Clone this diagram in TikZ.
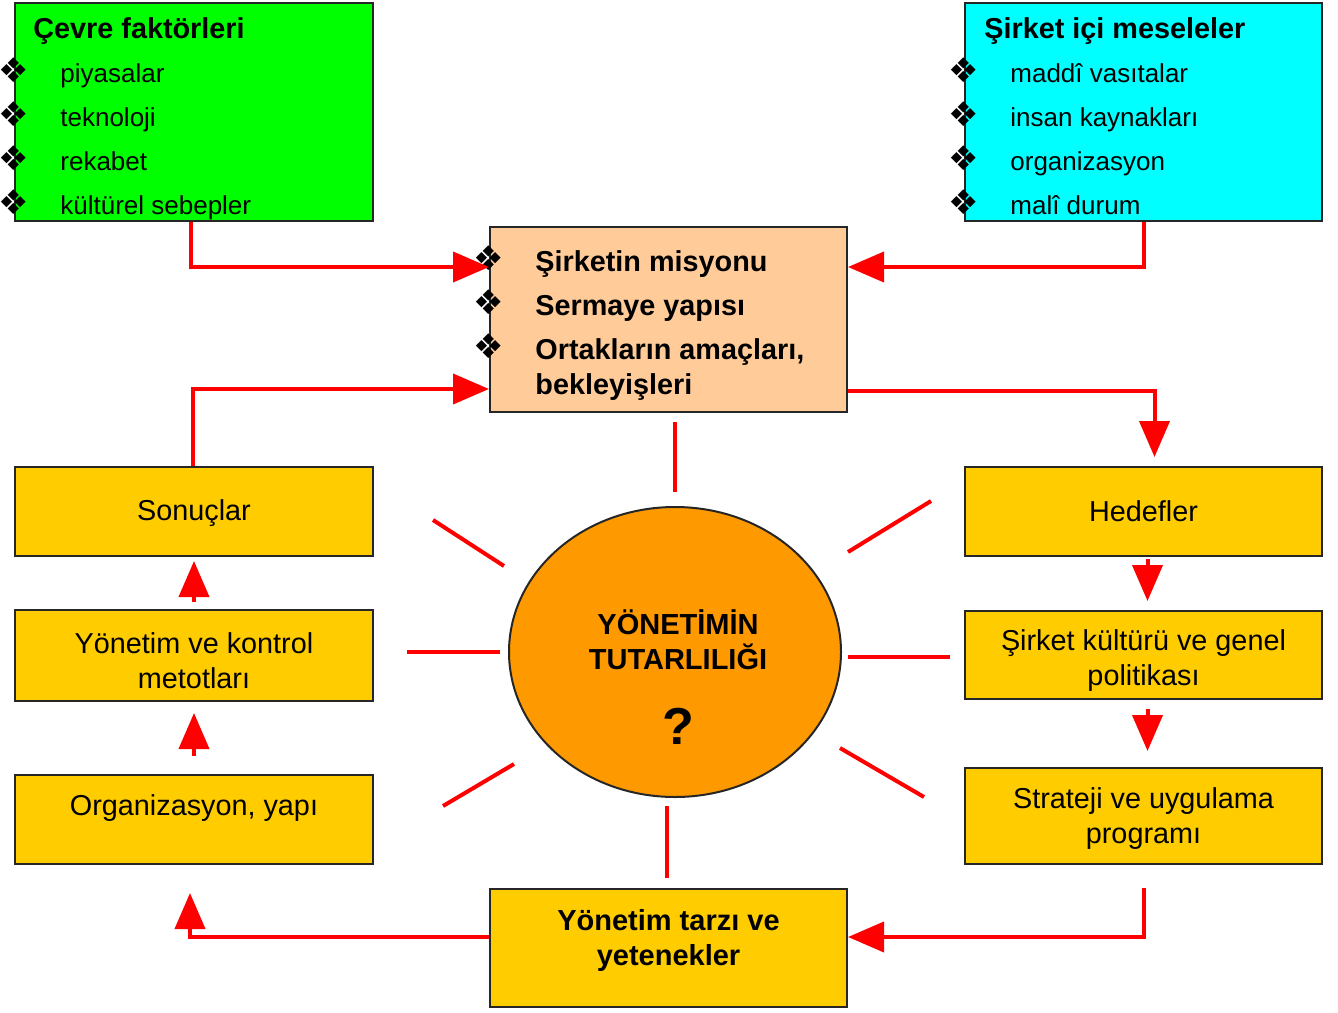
\documentclass[tikz,border=0pt]{standalone}
\usepackage{fontspec}
\setmainfont{Liberation Sans}
\newfontfamily\symfont{DejaVu Sans}
\usetikzlibrary{arrows.meta,calc,shapes.geometric}
\definecolor{cgreen}{HTML}{00FF00}
\definecolor{ccyan}{HTML}{00FFFF}
\definecolor{cpeach}{HTML}{FFCC99}
\definecolor{cyel}{HTML}{FFCC00}
\definecolor{corange}{HTML}{FF9900}
\definecolor{cred}{HTML}{FF0000}
\tikzset{
  box/.style={draw=black!85, line width=1pt, inner sep=0pt},
  txt/.style={font=\fontsize{14.4}{17.5}\selectfont, align=center, inner sep=0pt},
  btxt/.style={font=\bfseries\fontsize{14.5}{17.5}\selectfont, align=center, inner sep=0pt},
  item/.style={font=\fontsize{13}{16}\selectfont, anchor=mid west, inner sep=0pt},
  bitem/.style={font=\bfseries\fontsize{14.4}{16}\selectfont, anchor=mid west, inner sep=0pt},
  bul/.style={font=\symfont\fontsize{17}{17}\selectfont, inner sep=0pt},
  arr/.style={draw=cred, line width=2pt, -{Triangle[length=18pt,width=15pt]}},
  ray/.style={draw=cred, line width=2pt},
}
\begin{document}
\begin{tikzpicture}[x=0.5pt,y=-0.5pt]
\useasboundingbox (0,0) rectangle (1338,1012);
% top boxes
\node[box, fill=cgreen, minimum width=179pt, minimum height=109pt] (green) at (194,112) {};
\node[box, fill=ccyan, minimum width=178.5pt, minimum height=109pt] (cyan) at (1143.5,112) {};
\node[box, fill=cpeach, minimum width=178.5pt, minimum height=92.5pt] (peach) at (668.5,319.5) {};
% left column
\node[box, fill=cyel, minimum width=179pt, minimum height=44.5pt] (son) at (194,511.5) {};
\node[box, fill=cyel, minimum width=179pt, minimum height=45.5pt] (yvk) at (194,655.5) {};
\node[box, fill=cyel, minimum width=179pt, minimum height=44.5pt] (org) at (194,819.5) {};
% right column
\node[box, fill=cyel, minimum width=178.5pt, minimum height=44.5pt] (hedef) at (1143.5,511.5) {};
\node[box, fill=cyel, minimum width=178.5pt, minimum height=44pt] (kultur) at (1143.5,655) {};
\node[box, fill=cyel, minimum width=178.5pt, minimum height=48pt] (strat) at (1143.5,816) {};
% bottom
\node[box, fill=cyel, minimum width=178.5pt, minimum height=59pt] (tarz) at (668.5,948) {};
% ellipse
\node[box, ellipse, fill=corange, minimum width=166pt, minimum height=145pt] (ell) at (675,652) {};

% texts: green box
\node[bitem] (gh) at (33,33) {Çevre faktörleri};
\foreach \y/\t [count=\i] in {77/piyasalar,121/teknoloji,165/rekabet,209/kültürel sebepler}{
  \node[bul] (gb\i) at (14,\y-7) {❖};
  \node[item] (gi\i) at (60,\y) {\t};
}
% cyan box
\node[bitem] (ch) at (984,33) {Şirket içi meseleler};
\foreach \y/\t [count=\i] in {77/maddî vasıtalar,121/insan kaynakları,165/organizasyon,209/malî durum}{
  \node[bul] (cb\i) at (964,\y-7) {❖};
  \node[item] (ci\i) at (1010,\y) {\t};
}
% peach box
\foreach \y/\t [count=\i] in {266/Şirketin misyonu,310/Sermaye yapısı,354/{Ortakların amaçları,}}{
  \node[bul] (pb\i) at (489,\y-8) {❖};
  \node[bitem] (pi\i) at (535,\y) {\t};
}
\node[bitem] (pi4) at (535,389) {bekleyişleri};

% box texts
\node[txt] at ($(son)+(0,2)$) {Sonuçlar};
\node[txt] at ($(yvk)+(0,5)$) {Yönetim ve kontrol\\metotları};
\node[txt] at ($(org)+(0,-11)$) {Organizasyon, yapı};
\node[txt] at ($(hedef)+(0,0)$) {Hedefler};
\node[txt] at ($(kultur)+(0,6)$) {Şirket kültürü ve genel\\politikası};
\node[txt] at ($(strat)+(0,3)$) {Strateji ve uygulama\\programı};
\node[btxt] at ($(tarz)+(0,-8)$) {Yönetim tarzı ve\\yetenekler};
\node[btxt] (et) at (678,640) {YÖNETİMİN\\TUTARLILIĞI};
\node[font=\bfseries\fontsize{26}{26}\selectfont, inner sep=0pt] (q) at (678,726) {?};

% rays
\draw[ray] (675,422) -- (675,492);
\draw[ray] (667,806) -- (667,878);
\draw[ray] (407,652) -- (500,652);
\draw[ray] (848,657) -- (950,657);
\draw[ray] (433,520) -- (504,566);
\draw[ray] (848,552) -- (931,501);
\draw[ray] (443,806) -- (514,764);
\draw[ray] (840,748) -- (924,797);

% arrows
\draw[arr] ($(green.south)+(-3,0)$) |- ($(peach.north west)+(0,41)$);
\draw[arr] (cyan.south) |- ($(peach.north east)+(0,41)$);
\draw[arr] ($(son.north)+(-1,0)$) |- ($(peach.south west)+(0,-24)$);
\draw[arr] ($(peach.south east)+(0,-22)$) -| ($(hedef.north)+(11,-9)$);
\draw[arr] ($(hedef.south)+(4,2)$) -- ($(kultur.north)+(4,-9)$);
\draw[arr] ($(kultur.south)+(4,9)$) -- ($(strat.north)+(4,-16)$);
\draw[arr] ($(strat.south)+(0,23)$) |- ($(tarz.east)+(0,-11)$);
\draw[arr] ($(tarz.west)+(0,-11)$) -| ($(org.south)+(-4,28)$);
\draw[arr] ($(org.north)+(0,-18)$) -- ($(yvk.south)+(0,11)$);
\draw[arr] ($(yvk.north)+(0,-7)$) -- ($(son.south)+(0,4)$);
\end{tikzpicture}
\end{document}
